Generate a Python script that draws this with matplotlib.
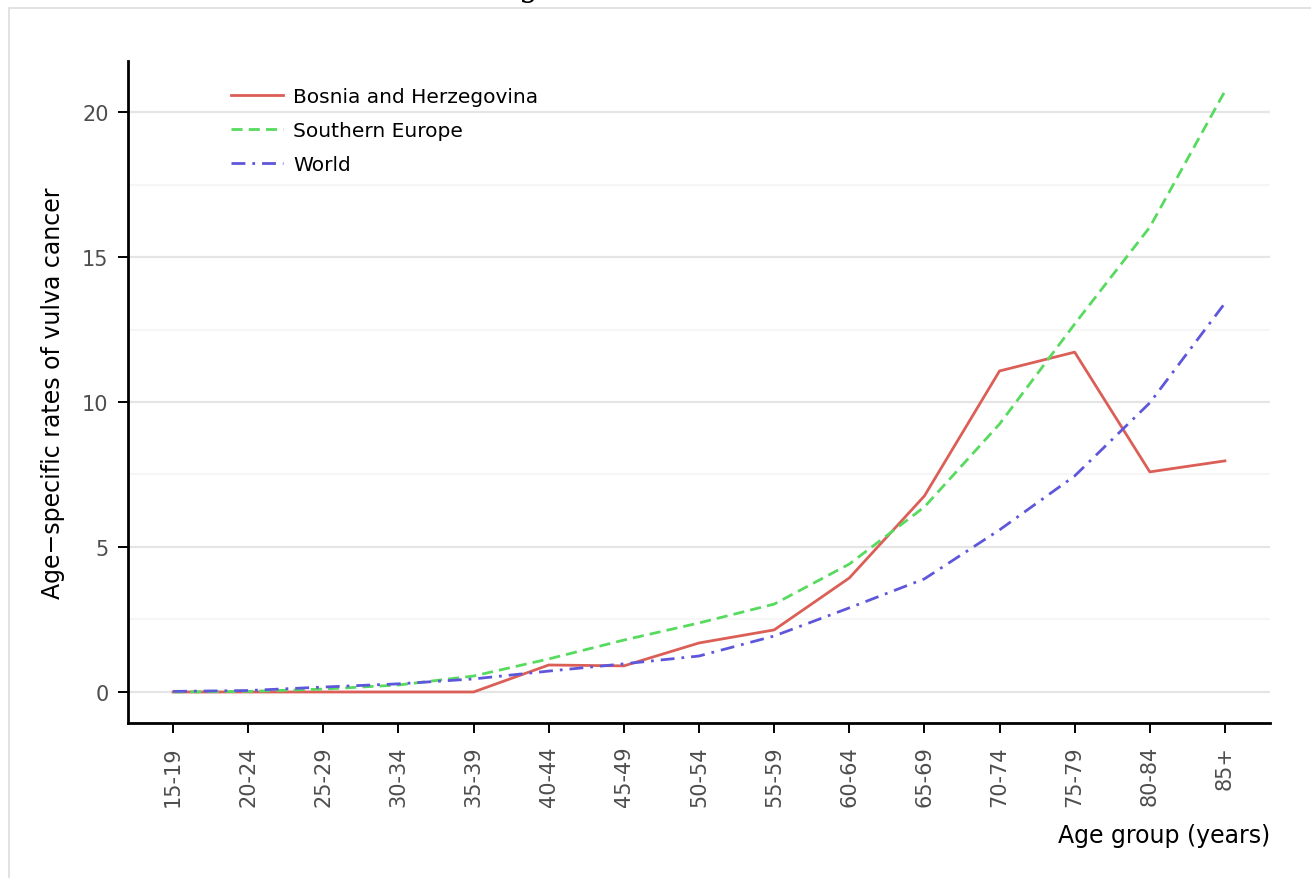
import numpy as np
import matplotlib
matplotlib.use("Agg")
import matplotlib.pyplot as plt
from matplotlib.patches import Rectangle

# Age-specific rates of vulva cancer (per 100 000)
age_groups = ["15-19", "20-24", "25-29", "30-34", "35-39", "40-44", "45-49",
              "50-54", "55-59", "60-64", "65-69", "70-74", "75-79", "80-84", "85+"]
bosnia = [0.0, 0.0, 0.0, 0.0, 0.0, 0.93, 0.90, 1.69, 2.14, 3.93, 6.76,
          11.07, 11.72, 7.59, 7.97]
southern_europe = [0.0, 0.02, 0.10, 0.24, 0.55, 1.14, 1.79, 2.38, 3.03, 4.41,
                   6.38, 9.24, 12.69, 16.03, 20.72]
world = [0.02, 0.05, 0.17, 0.28, 0.45, 0.72, 0.97, 1.24, 1.93, 2.90, 3.90,
         5.59, 7.45, 9.97, 13.41]

series_names = ["Bosnia and Herzegovina", "Southern Europe", "World"]
series_colors = ["#DB5F57", "#57DB5F", "#5F57DB"]

W, H = 1311, 879
fig = plt.figure(figsize=(W / 100, H / 100), dpi=100)

# light frame around the figure, and the cut-off title above it
fig.patches.append(Rectangle((9 / W, -0.1), 1.2, 1 - 9 / H + 0.1, transform=fig.transFigure,
                             fill=False, edgecolor="#DDDDDD", linewidth=1.2))
fig.text(519 / W, 1 + 4 / H, "ge,", fontsize=22, family="DejaVu Serif", va="baseline")

ax = fig.add_axes([128 / W, 1 - 724 / H, (1270 - 128) / W, (724 - 62) / H])
x = np.arange(len(age_groups))

ax.plot(x, bosnia, color=series_colors[0], lw=2.0, label=series_names[0])
ax.plot(x, southern_europe, color=series_colors[1], lw=2.0, dashes=(4, 2.2),
        label=series_names[1])
ax.plot(x, world, color=series_colors[2], lw=2.0, dashes=(5, 2.5, 1, 2.5),
        label=series_names[2])

ax.set_xlim(-0.6, len(age_groups) - 0.4)
ax.set_ylim(-1.07, 21.76)
ax.set_xticks(x)
ax.set_xticklabels(age_groups, rotation=90)
ax.set_yticks([0, 5, 10, 15, 20])
ax.set_yticks([2.5, 7.5, 12.5, 17.5], minor=True)
ax.tick_params(axis="y", which="minor", length=0)
ax.tick_params(which="major", length=7, width=1.4, color="black",
               labelsize=15, labelcolor="#4D4D4D")
ax.tick_params(axis="y", pad=7)
ax.tick_params(axis="x", pad=9)

ax.grid(axis="y", which="major", color="#E5E5E5", lw=1.6)
ax.grid(axis="y", which="minor", color="#F6F6F6", lw=1.6)
ax.grid(axis="x", visible=False)
ax.set_axisbelow(True)

for side in ["top", "right"]:
    ax.spines[side].set_visible(False)
for side in ["left", "bottom"]:
    ax.spines[side].set_linewidth(2.0)

ax.set_xlabel("Age group (years)", fontsize=17, loc="right", labelpad=12)
ax.set_ylabel("Age\u2212specific rates of vulva cancer", fontsize=17, labelpad=12)

ax.legend(loc="upper left", bbox_to_anchor=(0.074, 0.988), frameon=False,
          fontsize=14.5, handlelength=2.6, handletextpad=0.5, labelspacing=0.75)

fig.savefig("out.png", dpi=100)
